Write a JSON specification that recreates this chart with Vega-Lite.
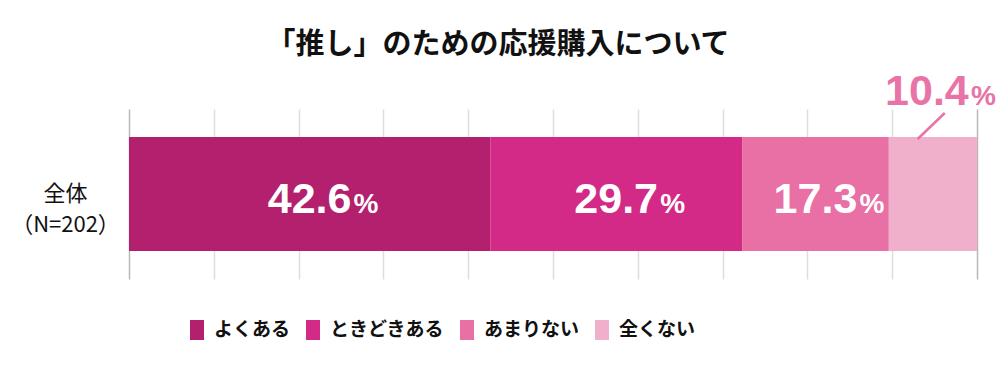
{
  "$schema": "https://vega.github.io/schema/vega-lite/v6.json",
  "width": 848,
  "height": 170,
  "autosize": {"type": "none"},
  "padding": {"left": 129, "top": 109, "right": 23, "bottom": 96},
  "background": "white",
  "title": {
    "text": "「推し」のための応援購入について",
    "anchor": "middle",
    "frame": "group",
    "dx": -55,
    "offset": -12,
    "baseline": "alphabetic",
    "font": "Noto Sans CJK JP",
    "fontSize": 29,
    "fontWeight": "bold",
    "color": "#111111"
  },
  "data": {
    "values": [
      {"group": "全体|（N=202）", "answer": "よくある", "pct": 42.6, "order": 1},
      {"group": "全体|（N=202）", "answer": "ときどきある", "pct": 29.7, "order": 2},
      {"group": "全体|（N=202）", "answer": "あまりない", "pct": 17.3, "order": 3},
      {"group": "全体|（N=202）", "answer": "全くない", "pct": 10.4, "order": 4}
    ]
  },
  "encoding": {
    "y": {
      "field": "group",
      "type": "nominal",
      "scale": {"paddingInner": 0, "paddingOuter": 0.2456},
      "axis": {
        "title": null,
        "domain": false,
        "ticks": false,
        "tickSize": 0,
        "labelExpr": "split(datum.label, '|')",
        "labelFont": "Noto Sans CJK JP",
        "labelFontSize": 22,
        "labelColor": "#111111",
        "labelAlign": "center",
        "labelBaseline": "middle",
        "labelLineHeight": 31,
        "labelPadding": 64
      }
    }
  },
  "layer": [
    {
      "mark": {"type": "bar"},
      "encoding": {
        "x": {
          "field": "pct",
          "type": "quantitative",
          "stack": "zero",
          "scale": {"domain": [0, 100], "nice": false},
          "axis": {
            "title": null,
            "labels": false,
            "ticks": false,
            "domain": false,
            "grid": true,
            "values": [0, 10, 20, 30, 40, 50, 60, 70, 80, 90, 100],
            "gridColor": {"condition": {"test": "datum.value === 0 || datum.value === 100", "value": "#b8b8b8"}, "value": "#dedede"},
            "gridWidth": 1.5
          }
        },
        "color": {
          "field": "answer",
          "type": "nominal",
          "scale": {
            "domain": ["よくある", "ときどきある", "あまりない", "全くない"],
            "range": ["#B2206E", "#D42A87", "#E870A5", "#F0AFCA"]
          },
          "legend": {
            "orient": "none",
            "legendX": 58,
            "legendY": 211,
            "direction": "horizontal",
            "title": null,
            "symbolType": "M-0.7,-1L0.7,-1L0.7,1L-0.7,1Z",
            "symbolSize": 400,
            "symbolStrokeWidth": 0,
            "symbolOpacity": 1,
            "labelFont": "Noto Sans CJK JP",
            "labelFontSize": 19,
            "labelFontWeight": "bold",
            "labelColor": "#111111",
            "labelOffset": 7,
            "columnPadding": 12
          }
        },
        "order": {"field": "order", "type": "quantitative"}
      }
    },
    {
      "mark": {"type": "text", "font": "Liberation Sans", "fontSize": 43, "fontWeight": "bold", "color": "white", "align": "center", "baseline": "alphabetic", "dy": 19},
      "encoding": {
        "x": {"field": "pct", "type": "quantitative", "stack": "zero", "bandPosition": 0.5},
        "detail": {"field": "answer"},
        "order": {"field": "order", "type": "quantitative"},
        "text": {"condition": {"test": "datum.answer !== '全くない'", "field": "pct", "type": "quantitative", "format": ".1f"}, "value": ""}
      }
    },
    {
      "mark": {"type": "text", "font": "Liberation Sans", "fontSize": 28, "fontWeight": "bold", "color": "white", "align": "left", "baseline": "alphabetic", "dy": 19, "dx": 44},
      "encoding": {
        "x": {"field": "pct", "type": "quantitative", "stack": "zero", "bandPosition": 0.5},
        "detail": {"field": "answer"},
        "order": {"field": "order", "type": "quantitative"},
        "text": {"condition": {"test": "datum.answer !== '全くない'", "value": "%"}, "value": ""}
      }
    },
    {
      "mark": {"type": "text", "font": "Liberation Sans", "fontSize": 43, "fontWeight": "bold", "color": "#E873A6", "align": "center", "baseline": "alphabetic", "dy": -89, "dx": -6},
      "encoding": {
        "x": {"field": "pct", "type": "quantitative", "stack": "zero", "bandPosition": 0.5},
        "detail": {"field": "answer"},
        "order": {"field": "order", "type": "quantitative"},
        "text": {"condition": {"test": "datum.answer === '全くない'", "field": "pct", "type": "quantitative", "format": ".1f"}, "value": ""}
      }
    },
    {
      "mark": {"type": "text", "font": "Liberation Sans", "fontSize": 28, "fontWeight": "bold", "color": "#E873A6", "align": "left", "baseline": "alphabetic", "dy": -89, "dx": 38},
      "encoding": {
        "x": {"field": "pct", "type": "quantitative", "stack": "zero", "bandPosition": 0.5},
        "detail": {"field": "answer"},
        "order": {"field": "order", "type": "quantitative"},
        "text": {"condition": {"test": "datum.answer === '全くない'", "value": "%"}, "value": ""}
      }
    },
    {
      "data": {"values": [{"group": "全体|（N=202）", "lx": 93.0, "lx2": 96.2}]},
      "mark": {"type": "rule", "color": "#E873A6", "strokeWidth": 2.5, "yOffset": -55, "y2Offset": -81},
      "encoding": {
        "x": {"field": "lx", "type": "quantitative"},
        "x2": {"field": "lx2"},
        "y2": {"field": "group"}
      }
    }
  ],
  "config": {"view": {"stroke": null}}
}
